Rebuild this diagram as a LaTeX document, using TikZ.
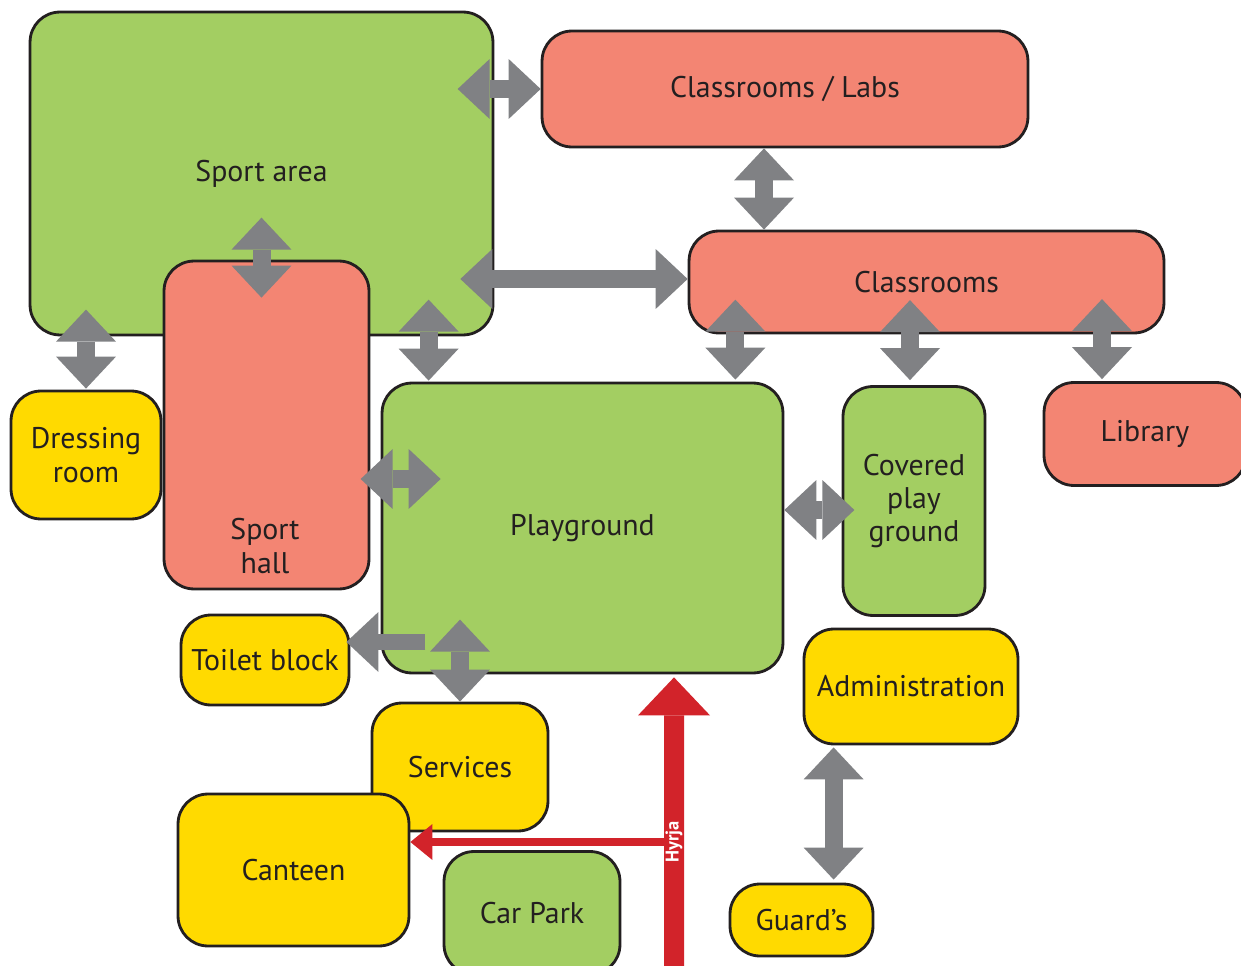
\documentclass[tikz,border=0pt]{standalone}
\usepackage{fontspec}
\setmainfont{PT Sans}
\usetikzlibrary{arrows.meta,calc}
\definecolor{fieldgreen}{HTML}{A3CE62}
\definecolor{roomred}{HTML}{F38573}
\definecolor{serviceyellow}{HTML}{FFDA00}
\definecolor{arrowgray}{HTML}{808184}
\definecolor{gatered}{HTML}{D2232A}
\definecolor{inkdark}{HTML}{231F20}
\tikzset{
  zone/.style={draw=inkdark, line width=1.6pt, rounded corners=0.6cm,
    text=inkdark, align=center, inner sep=0pt,
    font=\fontsize{17}{19}\selectfont},
  green zone/.style={zone, fill=fieldgreen},
  red zone/.style={zone, fill=roomred},
  yellow zone/.style={zone, fill=serviceyellow},
  biarrow/.style={draw=arrowgray, line width=0.36cm,
    {Triangle[length=0.64cm,width=1.2cm,line width=0pt]}-{Triangle[length=0.64cm,width=1.2cm,line width=0pt]}},
  onearrow/.style={draw=arrowgray, line width=0.32cm,
    -{Triangle[length=0.64cm,width=1.2cm,line width=0pt]}},
  gatearrow/.style={draw=gatered, line width=0.4cm,
    -{Triangle[length=0.76cm,width=1.44cm,line width=0pt]}},
  gatebranch/.style={draw=gatered, line width=0.16cm,
    -{Triangle[length=0.44cm,width=0.72cm,line width=0pt]}}
}
\begin{document}
\begin{tikzpicture}[x=0.02cm,y=-0.02cm]
\useasboundingbox (0,0) rectangle (1241,966);
% zones
\node[green zone, minimum width=9.26cm, minimum height=6.46cm] (sport) at (261.5,173.5) {Sport area};
\node[red zone, minimum width=9.72cm, minimum height=2.32cm] (labs) at (785,89) {Classrooms / Labs};
\node[red zone, minimum width=9.5cm, minimum height=2.04cm] (classrooms) at (926.5,282) {Classrooms};
\node[red zone, minimum width=4.1cm, minimum height=6.56cm] (hall) at (266.5,425) {};
\node[align=center, text=inkdark, font=\fontsize{17}{19}\selectfont] (halltext) at (265,546) {Sport\\hall};
\node[yellow zone, minimum width=3cm, minimum height=2.56cm] (dressing) at (86,455) {Dressing\\room};
\node[green zone, minimum width=8.02cm, minimum height=5.8cm] (play) at (582.5,528) {Playground};
\node[green zone, minimum width=2.84cm, minimum height=4.58cm] (covered) at (914,501) {Covered\\play\\ground};
\node[red zone, minimum width=4.04cm, minimum height=2.06cm] (library) at (1145,434) {Library};
\node[yellow zone, minimum width=3.36cm, minimum height=1.8cm] (toilet) at (265,660) {Toilet block};
\node[yellow zone, minimum width=3.52cm, minimum height=2.56cm] (services) at (460,767) {Services};
\node[yellow zone, minimum width=4.62cm, minimum height=3.04cm] (canteen) at (293.5,870) {Canteen};
\node[green zone, minimum width=3.52cm, minimum height=2.46cm] (carpark) at (532,913) {Car Park};
\node[yellow zone, minimum width=4.28cm, minimum height=2.3cm] (admin) at (911,686.5) {Administration};
\node[yellow zone, minimum width=2.86cm, minimum height=1.44cm] (guards) at (801.5,920) {Guard’s};
% links
\draw[biarrow] ($(labs.west)+(-83,0)$) -- (labs.west);
\draw[biarrow] ($(labs.south)+(-21,0)$) coordinate (lc) -- (lc |- classrooms.north);
\draw[biarrow] ($(hall.north)+(-5,-42)$) -- ($(hall.north)+(-5,38)$);
\draw[biarrow] ($(sport.east |- classrooms.west)+(-34,-3)$) -- ($(classrooms.west)+(0,-3)$);
\draw[biarrow] ($(dressing.north)+(0,-80)$) -- ($(dressing.north)+(0,-1)$);
\draw[biarrow] ($(play.north west)+(48,-82)$) -- ($(play.north west)+(48,-1)$);
\draw[biarrow] ($(play.north east)+(-49,-82)$) -- ($(play.north east)+(-49,-2)$);
\draw[biarrow] ($(covered.north)+(-4,-85)$) -- ($(covered.north)+(-4,-5)$);
\draw[biarrow] ($(library.north)+(-43,-82)$) -- ($(library.north)+(-43,-2)$);
\draw[biarrow] ($(play.west)+(-20,-49)$) -- ($(play.west)+(60,-49)$);
\draw[biarrow] ($(play.east)+(0,-18)$) -- ($(play.east)+(70,-18)$);
\draw[onearrow] ($(toilet.east)+(75,-18)$) -- ($(toilet.east)+(-4,-18)$);
\draw[biarrow] ($(services.north)+(0,-82)$) -- (services.north);
\draw[biarrow] ($(admin.south west)+(31,2)$) coordinate (ag) -- ($(ag |- guards.north)+(0,-3)$);
% entrance
\coordinate (gate) at (674,975);
\coordinate (fork) at (674,842);
\draw[gatebranch] (fork) -- (fork -| canteen.east);
\draw[gatearrow] (gate) -- ($(play.south)+(91.5,3)$);
\node[rotate=90, text=white, font=\bfseries\fontsize{10.5}{12}\selectfont] (hyrja) at (fork) {Hyrja};
\end{tikzpicture}
\end{document}
